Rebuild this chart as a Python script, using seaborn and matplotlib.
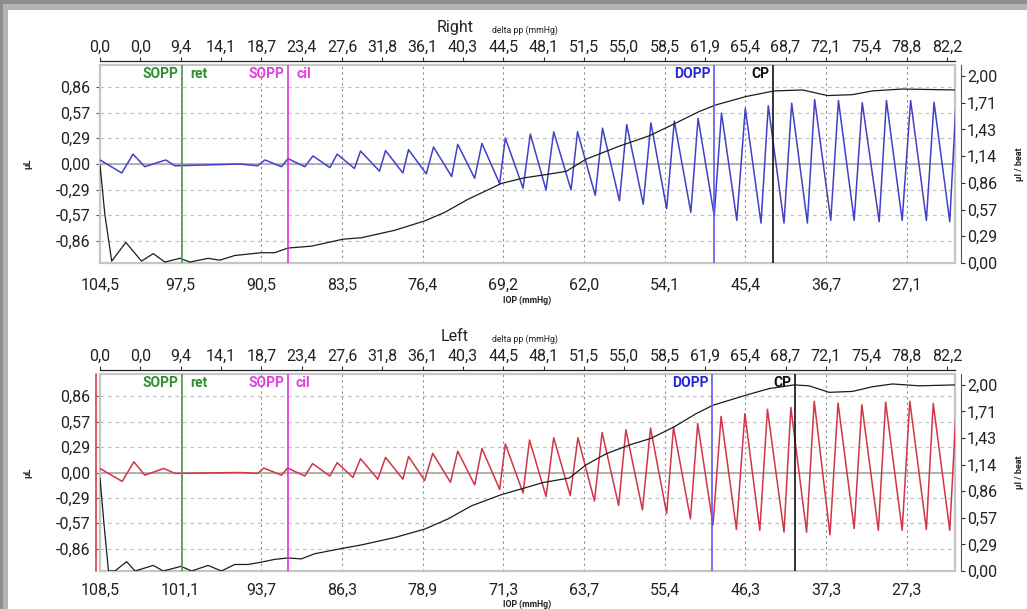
import matplotlib
matplotlib.use("Agg")
import matplotlib.pyplot as plt
from matplotlib.patches import Rectangle
import seaborn as sns

# top axis (delta pp, mmHg) - same for both eyes
delta_pp = ["0,0", "0,0", "9,4", "14,1", "18,7", "23,4", "27,6", "31,8", "36,1", "40,3", "44,5",
            "48,1", "51,5", "55,0", "58,5", "61,9", "65,4", "68,7", "72,1", "75,4", "78,8", "82,2"]
# bottom axis (IOP, mmHg), every second position
iop_right = ["104,5", "97,5", "90,5", "83,5", "76,4", "69,2", "62,0", "54,1", "45,4", "36,7", "27,1"]
iop_left = ["108,5", "101,1", "93,7", "86,3", "78,9", "71,3", "63,7", "55,4", "46,3", "37,3", "27,3"]

left_ticks = [-0.86, -0.57, -0.29, 0.0, 0.29, 0.57, 0.86]
left_labels = ["-0,86", "-0,57", "-0,29", "0,00", "0,29", "0,57", "0,86"]
right_ticks = [0.0, 0.2857, 0.5714, 0.8571, 1.1429, 1.4286, 1.7143, 2.0]
right_labels = ["0,00", "0,29", "0,57", "0,86", "1,14", "1,43", "1,71", "2,00"]

# Right eye pulse volume (µL), peaks/troughs
right_pulse_x = [0.00, 0.54, 0.82, 1.11, 1.63, 1.86, 3.47, 3.91, 4.09, 4.50, 4.66, 5.08, 5.28, 5.70,
                 5.88, 6.31, 6.46, 6.93, 7.08, 7.51, 7.65, 8.09, 8.27, 8.72, 8.87, 9.29, 9.47, 9.91,
                 10.05, 10.49, 10.67, 11.06, 11.25, 11.68, 11.84, 12.28, 12.46, 12.88, 13.06, 13.47,
                 13.66, 14.05, 14.24, 14.65, 14.83, 15.23, 15.41, 15.79, 16.00, 16.39, 16.57, 16.96,
                 17.15, 17.54, 17.72, 18.12, 18.31, 18.70, 18.90, 19.32, 19.50, 19.89, 20.10, 20.49,
                 20.68, 21.07, 21.22]
right_pulse_y = [0.045, -0.10, 0.11, -0.03, 0.045, -0.02, 0.00, -0.02, 0.045, -0.03, 0.06, -0.03,
                 0.09, -0.04, 0.11, -0.05, 0.145, -0.08, 0.15, -0.10, 0.16, -0.11, 0.19, -0.14, 0.22,
                 -0.16, 0.23, -0.22, 0.29, -0.27, 0.335, -0.29, 0.36, -0.29, 0.36, -0.35, 0.40, -0.41,
                 0.44, -0.45, 0.46, -0.50, 0.48, -0.54, 0.51, -0.58, 0.57, -0.63, 0.62, -0.66, 0.65,
                 -0.66, 0.68, -0.66, 0.72, -0.63, 0.71, -0.63, 0.685, -0.645, 0.71, -0.63, 0.71,
                 -0.63, 0.69, -0.645, 0.64]
# Right eye volume per beat (µl / beat)
right_beat_x = [0.00, 0.12, 0.29, 0.64, 1.03, 1.32, 1.61, 1.98, 2.23, 2.68, 2.97, 3.34, 4.00, 4.33,
                4.66, 5.24, 6.03, 6.48, 7.31, 8.05, 8.54, 9.12, 9.95, 10.51, 10.98, 11.56, 12.05,
                12.88, 13.62, 14.20, 14.86, 15.27, 16.02, 16.72, 17.42, 18.04, 18.66, 19.15, 19.89,
                21.22]
right_beat_y = [1.05, 0.52, 0.02, 0.22, 0.02, 0.10, 0.01, 0.05, 0.01, 0.05, 0.03, 0.08, 0.11, 0.11,
                0.16, 0.18, 0.255, 0.27, 0.35, 0.45, 0.54, 0.68, 0.85, 0.91, 0.94, 0.98, 1.11, 1.25,
                1.36, 1.48, 1.62, 1.69, 1.78, 1.84, 1.85, 1.79, 1.80, 1.84, 1.86, 1.85]

# Left eye pulse volume (µL)
left_pulse_x = [0.00, 0.55, 0.84, 1.11, 1.58, 1.86, 3.47, 3.91, 4.06, 4.50, 4.65, 5.08, 5.27, 5.70,
                5.88, 6.27, 6.46, 6.89, 7.08, 7.51, 7.65, 8.05, 8.25, 8.69, 8.87, 9.29, 9.47, 9.91,
                10.05, 10.49, 10.65, 11.06, 11.25, 11.66, 11.85, 12.26, 12.45, 12.86, 13.04, 13.45,
                13.65, 14.05, 14.22, 14.64, 14.82, 15.20, 15.40, 15.78, 15.99, 16.36, 16.55, 16.96,
                17.13, 17.52, 17.71, 18.10, 18.30, 18.70, 18.89, 19.30, 19.48, 19.89, 20.08, 20.49,
                20.66, 21.07, 21.23]
left_pulse_y = [0.045, -0.10, 0.12, -0.03, 0.045, -0.01, 0.00, -0.01, 0.05, -0.03, 0.05, -0.04,
                0.10, -0.04, 0.11, -0.055, 0.155, -0.075, 0.17, -0.075, 0.18, -0.09, 0.215, -0.11,
                0.24, -0.14, 0.27, -0.19, 0.32, -0.23, 0.365, -0.27, 0.39, -0.26, 0.39, -0.32, 0.45,
                -0.37, 0.48, -0.42, 0.50, -0.46, 0.51, -0.52, 0.55, -0.59, 0.63, -0.64, 0.66, -0.65,
                0.71, -0.67, 0.73, -0.67, 0.80, -0.70, 0.78, -0.63, 0.76, -0.65, 0.79, -0.65, 0.80,
                -0.64, 0.775, -0.65, 0.73]
left_beat_x = [0.00, 0.10, 0.21, 0.37, 0.66, 0.87, 1.32, 1.57, 2.01, 2.27, 2.68, 3.01, 3.34, 3.67,
               4.00, 4.33, 4.66, 4.99, 5.32, 6.03, 6.48, 7.31, 8.05, 8.63, 9.21, 9.95, 10.51, 10.98,
               11.64, 12.05, 12.55, 13.13, 13.66, 14.24, 14.78, 15.19, 16.02, 16.59, 17.21, 17.58,
               18.08, 18.66, 19.15, 19.65, 20.31, 21.22]
left_beat_y = [1.00, 0.50, 0.0, 0.0, 0.10, 0.0, 0.06, 0.0, 0.05, 0.0, 0.06, 0.0, 0.07, 0.07, 0.095,
               0.125, 0.14, 0.13, 0.185, 0.245, 0.28, 0.36, 0.45, 0.56, 0.70, 0.82, 0.89, 0.95, 1.00,
               1.14, 1.26, 1.355, 1.425, 1.55, 1.69, 1.78, 1.89, 1.96, 2.00, 1.99, 1.92, 1.93, 1.98,
               2.01, 1.99, 2.00]

# event markers: SOPP ret, SOPP cil, DOPP, CP
marker_left_text = ["SOPP", "SOPP", "DOPP", "CP"]
marker_right_text = ["ret", "cil", "", ""]
marker_line_colors = ["#4f9a4f", "#e030e0", "#5a5af0", "#111111"]
marker_text_colors = ["#2f8f2f", "#e040e0", "#2626d8", "#111111"]
right_marker_x = [2.03, 4.66, 15.22, 16.69]
left_marker_x = [2.03, 4.65, 15.18, 17.24]

sns.set_style("white")
plt.rcParams['font.family'] = ['Roboto', 'DejaVu Sans']

fig = plt.figure(figsize=(10.27, 6.09), dpi=100)
fig.patch.set_facecolor('#8e8e8e')
fig.add_artist(Rectangle((3 / 1027, 0), 1, 1 - 4 / 609, transform=fig.transFigure,
                         facecolor='#b4b4b4', edgecolor='none', zorder=-2))
fig.add_artist(Rectangle((8 / 1027, 0), 1, 1 - 10 / 609, transform=fig.transFigure,
                         facecolor='white', edgecolor='none', zorder=-1))


def draw_panel(rect, title, px, py, pcolor, bx, by, iop_labels, mx, iop_y, xpad, edge_color=None):
    ax = fig.add_axes(rect)
    ax.set_xlim(0, 21.2)
    ax.set_ylim(-1.106, 1.106)
    ax.set_xticks(range(0, 21, 2))
    ax.set_xticklabels(iop_labels)
    ax.set_yticks(left_ticks)
    ax.set_yticklabels(left_labels)
    ax.tick_params(axis='x', length=3, pad=xpad, labelsize=11.5, color='#9a9a9a', labelcolor='#222222')
    ax.tick_params(axis='y', length=3, pad=4, labelsize=11.5, color='#555555', labelcolor='#222222',
                   left=True)
    ax.grid(axis='x', color='#8c8c8c', linestyle=(0, (2, 3)), linewidth=0.8)
    ax.grid(axis='y', color='#c2c2c2', linestyle=(0, (3, 3)), linewidth=0.9)
    ax.axhline(0, color='#ababab', linewidth=1.3, zorder=1.5)
    for s in ax.spines.values():
        s.set_color('#c6c6c6')
        s.set_linewidth(1.6)

    line = sns.lineplot(x=px, y=py, ax=ax, color=pcolor, linewidth=1.1, sort=False,
                        estimator=None, legend=False, zorder=3)
    for ln in line.lines:
        ln.set_solid_joinstyle('round')
    ax.set_xlabel("")
    ax.set_ylabel("")

    ax2 = ax.twinx()
    ax2.set_ylim(0, 2.117)
    ax2.set_yticks(right_ticks)
    ax2.set_yticklabels(right_labels)
    ax2.tick_params(axis='y', length=3, pad=1.5, labelsize=11.5, color='#333333', labelcolor='#222222',
                    right=True)
    for side in ['left', 'top', 'bottom']:
        ax2.spines[side].set_visible(False)
    ax2.spines['right'].set_position(('outward', 4))
    ax2.spines['right'].set_color('#555555')
    ax2.spines['right'].set_linewidth(0.8)
    sns.lineplot(x=bx, y=by, ax=ax2, color='#1c1c1c', linewidth=0.9, sort=False,
                 estimator=None, legend=False)
    ax2.set_ylabel("")

    for xv, lt, rt, lc, tc in zip(mx, marker_left_text, marker_right_text,
                                  marker_line_colors, marker_text_colors):
        ax2.axvline(xv, color=lc, linewidth=1.2, zorder=4)
        ax2.annotate(lt, xy=(xv, 0.955), xycoords=('data', 'axes fraction'), xytext=(-2.5, 0),
                     textcoords='offset points', ha='right', va='center', fontsize=10,
                     fontweight='bold', color=tc)
        if rt:
            ax2.annotate(rt, xy=(xv, 0.955), xycoords=('data', 'axes fraction'), xytext=(6, 0),
                         textcoords='offset points', ha='left', va='center', fontsize=10,
                         fontweight='bold', color=tc)

    if edge_color:
        ax.axvline(-0.1, color=edge_color, linewidth=1.2, clip_on=False)

    sec = ax.secondary_xaxis('top')
    sec.set_xticks(range(len(delta_pp)))
    sec.set_xticklabels(delta_pp)
    sec.spines['top'].set_position(('outward', 3))
    sec.spines['top'].set_color('#222222')
    sec.spines['top'].set_linewidth(0.9)
    sec.tick_params(direction='out', length=3, pad=1, labelsize=11.5, color='#333333',
                    labelcolor='#222222')

    ax.text(0.415, 1.19, title, transform=ax.transAxes, ha='center', va='center',
            fontsize=11.5, color='#222222')
    ax.text(0.458, 1.177, "delta pp (mmHg)", transform=ax.transAxes, ha='left', va='center',
            fontsize=6.3, color='#222222')
    ax.text(0.5, iop_y, "IOP (mmHg)", transform=ax.transAxes, ha='center', va='center',
            fontsize=6.3, fontweight='bold', color='#222222')
    ax.text(-0.084, 0.5, "µL", transform=ax.transAxes, ha='center', va='center', rotation=90,
            fontsize=6.5, fontweight='bold', color='#222222')
    ax.text(1.076, 0.5, "µl / beat", transform=ax.transAxes, ha='center', va='center',
            rotation=90, fontsize=6.5, fontweight='bold', color='#222222')
    return ax


draw_panel([100 / 1027, 1 - 263 / 609, 855 / 1027, 198 / 609], "Right",
           right_pulse_x, right_pulse_y, '#4141c8', right_beat_x, right_beat_y,
           iop_right, right_marker_x, -0.187, 8)
draw_panel([100 / 1027, 1 - 571 / 609, 855 / 1027, 197 / 609], "Left",
           left_pulse_x, left_pulse_y, '#d23448', left_beat_x, left_beat_y,
           iop_left, left_marker_x, -0.17, 5.5, edge_color='#d83a4a')

fig.savefig("out.png", dpi=100, facecolor=fig.get_facecolor())
